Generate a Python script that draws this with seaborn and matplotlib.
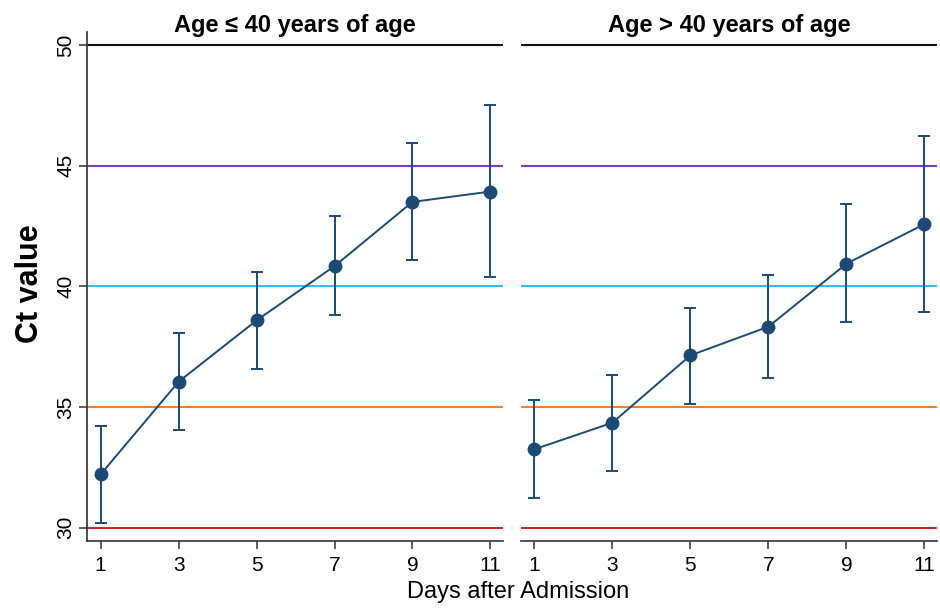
import numpy as np
import pandas as pd
import matplotlib
matplotlib.use("Agg")
import matplotlib.pyplot as plt
import seaborn as sns

# Ct values by day after admission, with 95% CI bounds
days = [1, 3, 5, 7, 9, 11]
groups = ["Age \u2264 40 years of age", "Age > 40 years of age"]

young_mean = [32.21, 36.05, 38.59, 40.84, 43.50, 43.93]
young_low = [30.21, 34.06, 36.58, 38.80, 41.08, 40.40]
young_high = [34.23, 38.06, 40.61, 42.93, 45.93, 47.51]

old_mean = [33.25, 34.35, 37.14, 38.33, 40.94, 42.58]
old_low = [31.22, 32.34, 35.11, 36.19, 38.52, 38.95]
old_high = [35.28, 36.33, 39.11, 40.48, 43.41, 46.25]

ref_levels = [50, 45, 40, 35, 30]
ref_colors = ["#111111", "#7f3fbf", "#35bdf0", "#ff7f1e", "#d8262a"]

y_ticks = [30, 35, 40, 45, 50]
x_ticks = days

df = pd.DataFrame({
    "day": days * 2,
    "ct": young_mean + old_mean,
    "low": young_low + old_low,
    "high": young_high + old_high,
    "group": [groups[0]] * len(days) + [groups[1]] * len(days),
})

sns.set_style("ticks")
plt.rcParams["font.family"] = ["Liberation Sans", "DejaVu Sans"]
plt.rcParams["text.color"] = "black"
plt.rcParams["xtick.labelcolor"] = "black"
plt.rcParams["ytick.labelcolor"] = "black"

navy = "#1c4a75"
fig = plt.figure(figsize=(9.4, 6.08), dpi=100)
ax_l = fig.add_axes([87 / 940, 67 / 608, 416.3 / 940, 509 / 608])
ax_r = fig.add_axes([520.7 / 940, 67 / 608, 416.6 / 940, 509 / 608], sharey=ax_l)

for ax, g in zip([ax_l, ax_r], groups):
    sub = df[df["group"] == g]
    for lvl, col in zip(ref_levels, ref_colors):
        ax.axhline(lvl, color=col, lw=1.5, zorder=1)
    ax.errorbar(sub["day"], sub["ct"],
                yerr=[sub["ct"] - sub["low"], sub["high"] - sub["ct"]],
                fmt="none", ecolor=navy, elinewidth=1.4, capsize=4,
                capthick=1.4, zorder=2)
    sns.lineplot(data=sub, x="day", y="ct", ax=ax, color=navy, lw=1.4,
                 marker="o", markersize=10, markeredgewidth=0,
                 errorbar=None, zorder=3)
    ax.set_xlim(0.65, 11.33)
    ax.set_ylim(29.45, 50.54)
    ax.set_xticks(x_ticks)
    ax.set_xticklabels([str(d) for d in x_ticks], fontsize=15)
    ax.set_xlabel("")
    ax.set_ylabel("")
    # panel heading sits with its baseline on the top edge of the plot area
    ax.text(0.5, 1.0, g, transform=ax.transAxes, ha="center", va="baseline",
            fontsize=17, fontweight="bold", color="black")
    ax.tick_params(axis="x", length=6, width=1.1, color="#333333", pad=5)
    for s in ["top", "right"]:
        ax.spines[s].set_visible(False)
    ax.spines["bottom"].set_color("#333333")
    ax.spines["bottom"].set_linewidth(1.2)
    ax.spines["left"].set_color("#333333")
    ax.spines["left"].set_linewidth(1.2)

ax_l.set_yticks(y_ticks)
ax_l.set_yticklabels([str(v) for v in y_ticks], fontsize=15, rotation=90, va="center")
ax_l.tick_params(axis="y", length=6, width=1.1, color="#333333", pad=2.5)

ax_r.spines["left"].set_visible(False)
ax_r.tick_params(axis="y", left=False, labelleft=False)

fig.text(30 / 940, 1 - 284 / 608, "Ct value", rotation=90, fontsize=22,
         fontweight="bold", ha="center", va="center")
fig.text(518 / 940, 1 - 592 / 608, "Days after Admission", fontsize=17,
         ha="center", va="center")

fig.savefig("out.png", dpi=100)
